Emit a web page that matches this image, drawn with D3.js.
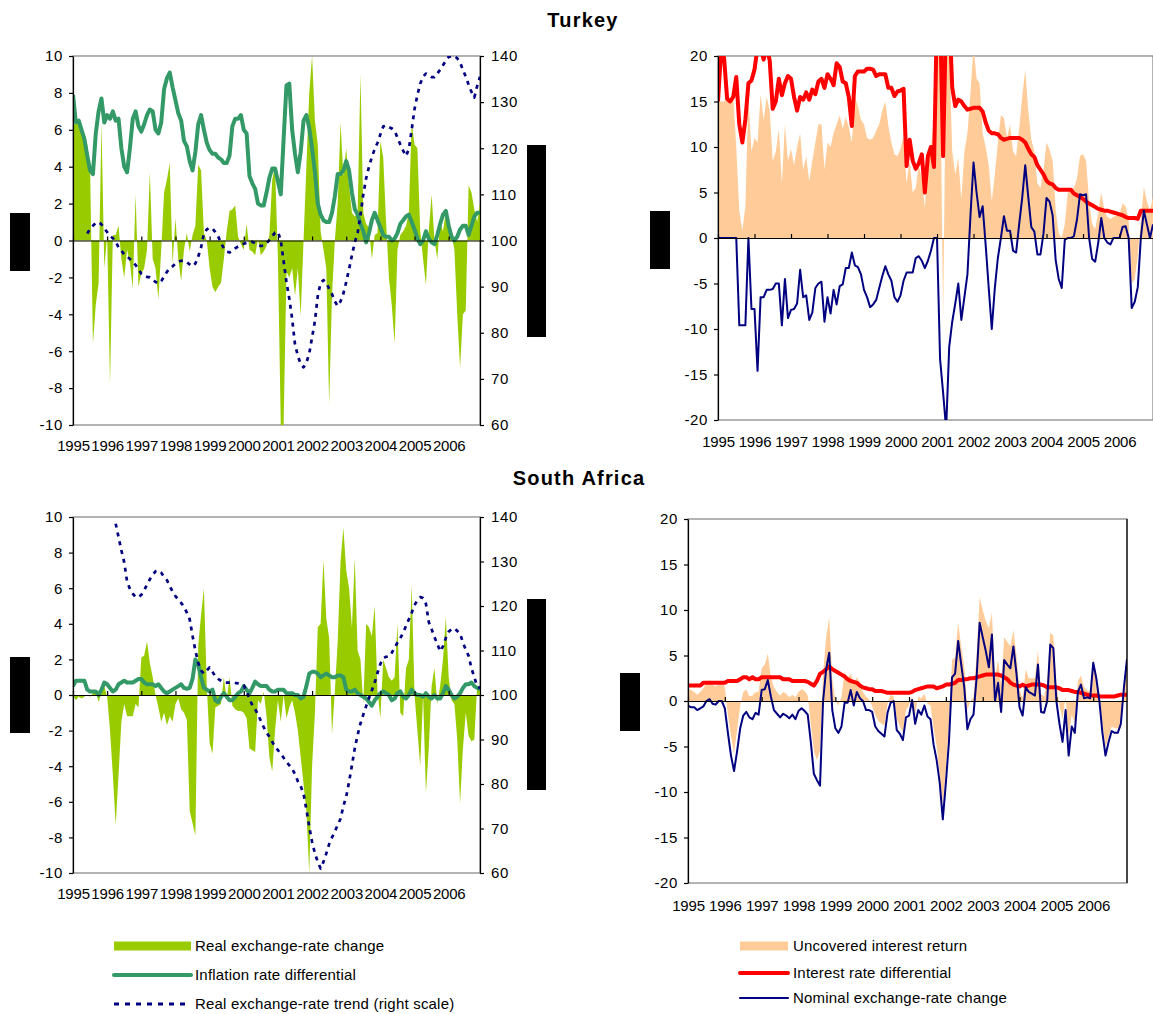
<!DOCTYPE html>
<html>
<head>
<meta charset="utf-8">
<script src="https://cdn.jsdelivr.net/npm/d3@7"></script>
<style>
  body { margin: 0; background: #fff; }
  svg { display: block; font-family: "Liberation Sans", Arial, sans-serif; }
</style>
</head>
<body>
<div id="chart"></div>
<script>
var svgWidth = 1153;
var svgHeight = 1014;

// monthly observations, Jan 1995 - Dec 2006 (one row per year)
var yearTicks = d3.range(0, 144, 12);

// Turkey
var trRer = [
  6.3, 6.3, 6.4, 6.0, 5.8, 5.2, 4.0, -5.6, -3.5, -2.3, 6.4, -1.5,
  0.3, -7.8, 0.3, 0.3, 0.8, -1.0, -2.0, -0.5, -1.2, -2.6, 2.5, -2.5,
  -1.8, -1.5, -0.5, 3.7, -1.0, -1.5, -3.2, -0.5, 2.6, 3.3, 4.2, -1.3,
  1.2, -1.0, -2.2, -0.5, 0.4, -0.6, 0.3, 0.8, 4.1, 3.8, 0.4, 0.0,
  -1.5, -2.5, -2.8, -2.5, -2.3, -1.0, 0.5, 1.6, 1.7, 1.9, 0.2, -0.2,
  -0.5, 0.9, -0.5, -0.6, -0.8, 0.1, -0.8, -0.6, -0.3, 0.3, 3.3, 4.0,
  -1.0, -10, -10, -1.7, -2.0, -1.5, -3.0, -1.5, -4.1, 0.0, 4.0, 8.0,
  10.0, 6.5, 5.2, 0.5, -0.5, -1.5, -8.9, -3.0, 0.0, 2.0, 6.4, 3.5,
  5.0, 3.0, 1.5, 1.3, 1.5, 9.0, 1.5, 0.9, 0.7, -1.0, 0.3, 0.4,
  5.4, 4.5, 1.0, -2.0, -3.5, -5.6, -0.5, 0.3, 0.5, 0.8, 1.5, 6.4,
  5.2, 5.0, 0.5, -1.0, -2.4, 0.5, 2.5, 0.0, -1.0, 1.0, 0.5, 1.6,
  1.0, 0.3, -0.5, -4.0, -6.9, -4.0, -3.8, 3.0, 2.6, 1.7, 1.0, 2.0
];
var trInfl = [
  7.9, 6.4, 6.5, 6.0, 5.5, 4.6, 3.8, 3.6, 5.8, 7.0, 7.7, 6.4,
  6.8, 6.6, 7.0, 6.5, 6.6, 5.0, 4.0, 3.7, 5.0, 6.6, 7.0, 6.2,
  5.9, 6.3, 6.8, 7.1, 7.0, 6.0, 5.8, 6.4, 8.2, 8.8, 9.1, 8.3,
  7.6, 6.9, 6.5, 5.4, 5.1, 4.3, 3.8, 4.8, 6.3, 6.8, 6.0, 5.3,
  4.9, 4.7, 4.7, 4.5, 4.4, 4.2, 4.2, 4.6, 6.2, 6.6, 6.6, 6.8,
  6.0, 5.8, 3.5, 3.1, 2.8, 2.0, 1.9, 1.9, 2.6, 3.4, 3.9, 3.9,
  3.2, 2.5, 5.5, 8.4, 8.5, 6.0, 4.7, 3.7, 4.8, 6.5, 6.8, 6.1,
  5.0, 3.7, 2.0, 1.4, 1.1, 1.0, 1.0, 1.5, 2.4, 3.6, 3.6, 3.8,
  4.3, 3.8, 2.6, 1.7, 1.4, 0.9, 0.5, -0.1, 0.4, 1.1, 1.5, 1.1,
  0.7, 0.3, 0.2, 0.2, 0.0, 0.1, 0.4, 0.9, 1.1, 1.3, 1.4, 1.0,
  0.6, 0.1, -0.2, 0.0, 0.5, 0.1, -0.1, -0.2, 0.3, 0.9, 1.4, 1.6,
  0.8, 0.2, 0.0, 0.2, 0.6, 0.8, 0.8, 0.3, 0.8, 1.3, 1.5, 1.5
];
var trTrend = [
  null, null, null, null, null, 101.5, 102.5, 103.2, 103.8, 104.0, 103.5, 102.6,
  101.8, 101.0, 100.5, 99.8, 98.5, 97.8, 97.0, 96.5, 96.0, 95.3, 94.7, 93.8,
  92.8, 92.3, 92.1, 92.0, 91.5, 91.0, 90.7, 91.2, 92.2, 93.2, 94.0, 94.4,
  95.0, 95.4, 95.6, 95.7, 95.3, 94.8, 94.4, 95.0, 96.5, 98.5, 101.5, 102.4,
  102.8, 102.6, 101.8, 100.9, 99.5, 98.3, 97.6, 97.4, 97.8, 98.3, 98.7, 99.0,
  99.3, 99.5, 99.7, 99.7, 99.4, 99.0, 98.8, 98.9, 99.4, 100.1, 100.9, 101.7,
  101.9, 100.0, 95.5, 91.0, 87.4, 83.0, 77.5, 75.0, 73.2, 72.5, 73.5, 75.5,
  79.0, 82.5, 88.0, 90.8, 91.4, 90.9, 89.5, 88.4, 86.8, 85.8, 86.8, 88.5,
  91.0, 93.8, 96.8, 99.6, 101.6, 105.5, 110.0, 113.5, 116.0, 118.1, 119.8, 121.2,
  123.0, 124.7, 125.0, 124.6, 124.3, 123.8, 122.3, 120.8, 119.5, 118.3, 119.8, 124.0,
  128.5, 131.5, 134.0, 135.5, 136.2, 135.8, 135.4, 135.4, 136.2, 137.0, 138.0, 139.0,
  139.8, 140.0, 140.0, 139.5, 138.6, 137.0, 135.5, 133.8, 132.2, 131.0, 133.5, 135.5
];
var trUir = [
  15.0, 15.0, 15.0, 15.3, 15.4, 15.5, 10.0, 3.0, 0.8, 3.5, 15.5, 9.5,
  11.0, 10.5, 15.8, 13.0, 15.5, 14.0, 8.5, 9.5, 12.0, 6.0, 12.5, 8.5,
  9.8, 8.0, 10.0, 11.5, 7.5, 9.0, 6.2, 8.5, 10.5, 12.5, 12.5, 7.5,
  10.5, 10.0, 11.5, 12.5, 13.5, 12.0, 13.3, 12.2, 10.5, 15.5, 14.5, 13.0,
  12.5, 11.0, 10.8, 11.0, 11.8, 12.5, 14.0, 15.0, 12.3, 10.5, 9.2, 9.0,
  9.8, 11.2, 6.0, 8.5, 5.0, 5.5, 8.0, 6.5, 3.3, 8.2, 10.0, 13.0,
  21, 21, -9.0, 21, 21, 9.5, 7.0, 8.8, 4.2, 9.5, 11.5, 16.0,
  21, 17.5, 17.0, 11.5, 10.0, 8.0, 4.0, 7.0, 10.5, 13.5, 13.2, 11.0,
  12.5, 9.5, 9.0, 12.0, 15.5, 18.5, 14.0, 10.8, 9.5, 6.0, 5.5, 7.5,
  10.5, 9.7, 8.5, 3.2, 0.5, 0.0, 1.5, 5.0, 5.5, 5.5, 6.5, 9.0,
  9.2, 8.5, 4.0, 1.5, 1.0, 2.8, 5.0, 3.0, 2.3, 2.1, 2.3, 2.5,
  2.6, 3.8, 3.5, 2.0, -5.0, -4.5, -2.0, 2.0, 5.6, 4.0, 3.0, 4.5
];
var trIrate = [
  15.0, 20.5, 19.8, 15.3, 15.0, 15.5, 17.7, 12.5, 10.5, 13.0, 17.0, 17.3,
  18.5, 21, 21, 19.6, 21, 19.5, 14.2, 15.0, 17.5, 15.7, 17.0, 17.8,
  17.5, 15.5, 14.0, 15.5, 15.2, 16.0, 15.2, 16.3, 15.8, 17.2, 17.5, 16.5,
  18.0, 17.5, 16.8, 19.2, 18.8, 17.2, 17.0, 15.5, 12.3, 17.8, 18.3, 18.3,
  18.3, 18.6, 18.6, 18.5, 17.8, 18.0, 18.0, 18.0, 16.5, 16.5, 15.6, 16.1,
  16.2, 16.4, 7.9, 10.8, 8.5, 7.6, 8.2, 9.2, 5.0, 9.0, 10.0, 7.8,
  25, 25, 9.0, 25, 25, 16.5, 14.5, 15.2, 15.0, 14.5, 14.1, 14.2,
  14.3, 14.3, 14.3, 13.9, 12.7, 11.8, 11.5, 11.5, 11.4, 11.0, 10.8, 10.9,
  11.0, 11.0, 11.0, 11.0, 10.8, 10.5, 9.8, 9.2, 8.9, 8.0, 7.5, 7.0,
  6.3, 6.0, 5.9, 5.5, 5.3, 5.3, 5.3, 5.3, 5.3, 4.9, 4.7, 4.5,
  4.3, 4.0, 3.8, 3.6, 3.4, 3.2, 3.1, 3.0, 3.0, 2.9, 2.8, 2.7,
  2.6, 2.5, 2.3, 2.2, 2.2, 2.2, 2.1, 3.0, 3.0, 3.0, 3.0, 3.0
];
var trNom = [
  0, 0, 0, 0, 0, 0, 0, -9.6, -9.6, -9.6, 0.0, -7.8,
  -7.8, -14.6, -6.5, -6.5, -5.7, -5.7, -5.6, -5.0, -5.0, -9.6, -4.5, -8.8,
  -7.9, -7.8, -7.2, -3.5, -6.5, -6.3, -9.0, -8.2, -5.5, -5.0, -4.8, -9.2,
  -6.5, -8.3, -5.7, -7.3, -5.3, -5.1, -3.3, -3.3, -1.6, -3.0, -3.2, -4.0,
  -5.7, -6.5, -7.6, -7.3, -6.8, -5.5, -4.2, -3.1, -4.0, -4.7, -6.5, -7.0,
  -6.3, -4.7, -3.8, -3.8, -3.8, -2.2, -2.0, -2.5, -3.3, -2.5, -1.4, 0.0,
  0.0, -13.3, -17, -21, -12, -9.2, -7.2, -5.0, -9.0, -6.5, -4.0, 2.5,
  8.3, 5.0, 2.3, 3.5, -0.8, -5.5, -10.0, -5.5, -2.2, 0.0, 2.4, 0.8,
  0.8, -1.4, -1.6, 1.5, 4.4, 8.0, 4.5, 1.2, 0.7, -1.8, -1.8, 0.5,
  4.4, 4.0, 2.5, -2.4, -4.5, -5.5, -0.2, 0.0, 0.0, 0.2, 2.0, 4.8,
  4.7, 4.8, 0.0, -2.3, -2.6, -0.5, 2.2, 0.0, -0.5, -0.7, 0.0, 0.0,
  0.0, 1.2, 1.3, 0.0, -7.7, -7.0, -5.4, 0.0, 3.0, 1.5, 0.0, 1.5
];

// South Africa
var saRer = [
  0.0, -0.3, -0.1, -0.2, -0.1, 0.0, -0.1, 0.1, 0.2, -0.4, 0.1, 0.5,
  -0.1, -2.0, -4.5, -7.3, -4.5, -1.5, -0.5, -1.2, -1.2, -1.2, -0.5, -0.7,
  2.1, 2.2, 3.0, 1.8, 1.0, 0.0, -0.7, -1.5, -1.0, -1.7, -1.2, -1.5,
  -0.5, -0.2, -0.8, -1.0, -1.4, -6.5, -7.2, -7.9, 2.8, 4.5, 6.0, 0.5,
  -2.7, -3.3, -0.7, -0.6, -0.5, 1.0, -0.3, 1.0, -0.6, -0.8, -0.9, -0.9,
  -1.0, -1.3, -3.0, -3.1, -3.2, -0.3, -0.5, 0.2, -1.2, -3.5, -4.3, -2.0,
  -0.3, -1.5, 0.0, -1.3, -0.7, -0.3, -1.0, -2.0, -3.5, -5.0, -6.5, -10.0,
  -4.0, -1.0, 3.8, 4.0, 7.6, 4.3, 3.2, -2.2, 0.2, 3.0, 7.5, 9.4,
  7.0, 6.0, 3.8, 7.7, 2.5, 2.0, -0.5, 4.0, 3.8, 3.3, 5.0, 0.2,
  -1.3, 2.0, 1.5, 1.0, 0.8, 1.0, 4.0, -1.0, -1.2, 1.5, 2.0, 6.2,
  0.0, -2.0, -4.0, 0.0, -5.5, -3.0, 0.5, 1.5, -0.5, 0.5, 2.0, 4.4,
  1.0, -0.3, -0.5, -2.5, -6.1, -3.0, -1.0, -2.3, -2.6, -2.5, 0.5, 0.5
];
var saInfl = [
  0.5, 0.8, 0.8, 0.8, 0.8, 0.3, 0.2, 0.2, 0.2, 0.0, 0.3, 0.7,
  0.6, 0.4, 0.2, 0.3, 0.6, 0.7, 0.8, 0.7, 0.7, 0.7, 0.8, 0.9,
  0.9, 0.7, 0.6, 0.6, 0.6, 0.5, 0.6, 0.4, 0.2, 0.1, 0.2, 0.3,
  0.4, 0.5, 0.6, 0.4, 0.35, 0.4, 0.9, 2.0, 1.7, 1.0, 0.4, 0.3,
  0.2, 0.3, -0.3, -0.4, -0.1, 0.1, -0.1, -0.3, -0.3, -0.1, 0.1, 0.2,
  0.5, 0.3, 0.1, 0.4, 0.75, 0.6, 0.5, 0.5, 0.5, 0.3, 0.2, 0.2,
  0.3, 0.3, 0.3, 0.1, 0.1, 0.1, 0.0, 0.0, -0.2, -0.1, 0.5, 1.2,
  1.3, 1.3, 1.2, 1.0, 1.1, 1.2, 1.1, 1.0, 1.0, 1.1, 1.1, 1.0,
  0.3, 0.2, 0.2, 0.3, 0.1, 0.0, -0.1, -0.2, -0.4, -0.6, -0.3, -0.1,
  0.1, 0.2, 0.1, 0.0, -0.3, -0.2, 0.1, 0.2, -0.1, -0.2, 0.0, 0.3,
  0.1, 0.0, 0.0, -0.1, 0.1, -0.1, -0.2, 0.0, -0.2, -0.2, 0.1, 0.5,
  0.3, 0.0, -0.2, -0.1, 0.1, 0.4, 0.6, 0.6, 0.7, 0.5, 0.4, 0.3
];
var saTrend = [
  null, null, null, null, null, null, null, null, null, null, null, null,
  null, null, null, 138.5, 135.5, 132.5, 129.8, 125.5, 123.8, 122.8, 122.0, 122.0,
  122.5, 123.5, 124.8, 126.0, 127.0, 127.8, 128.0, 127.5, 126.5, 125.8, 124.5, 123.2,
  122.2, 121.4, 120.7, 119.8, 118.5, 117.0, 113.3, 110.0, 107.2, 105.5, 104.8, 105.5,
  106.2, 105.2, 104.2, 103.6, 103.2, 102.8, 102.8, 102.8, 102.8, 102.7, 102.6, 102.4,
  102.2, 100.8, 99.2, 97.7, 96.8, 95.6, 94.2, 92.8, 91.6, 90.6, 89.5, 88.3,
  87.6, 86.8, 85.9, 85.0, 84.2, 83.4, 82.2, 80.6, 79.5, 77.8, 74.3, 70.4,
  67.0, 64.4, 62.5, 61.0, 62.5, 64.4, 66.5, 68.0, 69.3, 70.8, 72.2, 75.0,
  77.2, 80.5, 84.2, 88.0, 91.0, 93.6, 95.6, 97.5, 99.3, 101.0, 102.8, 105.0,
  107.0, 108.2, 108.6, 108.6, 109.5, 110.6, 111.8, 112.8, 114.0, 115.5, 117.0, 118.5,
  120.2, 121.3, 122.0, 121.8, 120.5, 116.4, 114.8, 113.0, 111.5, 109.8, 111.0, 112.8,
  114.2, 114.8, 115.0, 114.4, 113.8, 111.8, 110.2, 108.8, 106.0, 104.0, 102.0, 101.5
];
var saUir = [
  1.3, 1.2, 1.0, 0.7, 1.0, 1.4, 2.0, 2.3, 1.8, 1.6, 2.0, 2.2,
  1.5, -1.5, -3.8, -5.8, -3.2, -0.5, 1.0, 1.3, 0.5, 0.6, 1.0, 1.0,
  3.6, 4.0, 5.2, 2.6, 1.5, 1.0, 0.6, 1.0, 0.8, 0.4, 0.7, 0.4,
  1.0, 1.3, 1.1, 0.6, -2.5, -5.5, -6.5, -5.5, 3.0, 7.0, 9.2, 2.5,
  0.0, -0.5, 0.5, 3.2, 2.5, 3.0, 2.0, 2.6, 2.0, 1.0, 0.5, 0.2,
  -0.6, -1.5, -2.2, -2.5, -2.7, -0.3, 0.7, 0.5, -2.0, -2.8, -3.4, -1.0,
  -0.5, 0.5, -1.5, 0.5, 0.3, 0.8, -0.3, -0.5, -3.0, -5.0, -8.0, -11.5,
  -7.5, -2.5, 4.5, 4.8, 8.6, 6.0, 3.8, -1.0, 0.0, 0.5, 5.0, 11.4,
  10.0, 8.8, 8.0, 9.7, 2.5, 4.5, 1.8, 7.0, 6.5, 6.0, 7.8, 5.0,
  1.2, 0.3, 3.5, 2.5, 2.5, 2.5, 5.6, 0.8, 0.5, 2.0, 7.5, 7.2,
  2.0, -0.5, -2.0, 0.5, -4.0, -1.5, -2.5, 2.2, 2.8, 1.5, 1.2, 1.0,
  4.5, 3.0, 0.8, -2.5, -5.0, -4.0, -2.8, -3.0, -3.0, -3.0, 1.5, 5.0
];
var saIrate = [
  1.7, 1.7, 1.7, 1.7, 1.7, 2.0, 2.0, 2.0, 2.0, 2.0, 2.0, 2.0,
  2.0, 2.2, 2.2, 2.2, 2.2, 2.4, 2.6, 2.6, 2.4, 2.6, 2.4, 2.4,
  2.6, 2.6, 2.6, 2.6, 2.6, 2.6, 2.6, 2.4, 2.4, 2.4, 2.2, 2.2,
  2.2, 2.2, 2.2, 2.1, 1.9, 1.7, 2.2, 3.0, 3.2, 3.5, 3.8, 3.5,
  3.3, 3.1, 2.9, 2.7, 2.4, 2.2, 2.1, 2.0, 1.7, 1.5, 1.4, 1.3,
  1.3, 1.1, 1.1, 1.1, 1.0, 0.9, 0.9, 0.9, 0.9, 0.9, 0.9, 0.9,
  0.9, 1.0, 1.2, 1.3, 1.4, 1.5, 1.6, 1.6, 1.6, 1.4, 1.5, 1.6,
  1.8, 1.8, 1.9, 2.0, 2.3, 2.3, 2.4, 2.4, 2.5, 2.5, 2.6, 2.7,
  2.8, 2.9, 2.9, 2.9, 2.9, 2.9, 2.8, 2.6, 2.4, 2.0, 1.8, 1.7,
  1.6, 1.8, 1.6, 1.7, 1.8, 1.8, 1.8, 1.8, 1.7, 1.5, 1.5, 1.5,
  1.5, 1.4, 1.2, 1.2, 1.2, 1.1, 1.0, 1.0, 0.9, 0.8, 0.7, 0.6,
  0.6, 0.6, 0.5, 0.5, 0.5, 0.5, 0.5, 0.5, 0.6, 0.7, 0.7, 0.7
];
var saNom = [
  -0.5, -0.7, -0.7, -1.0, -0.8, -0.6, 0.0, 0.2, -0.3, -0.4, 0.0, 0.0,
  -0.8, -3.5, -6.0, -7.7, -5.5, -3.0, -1.6, -1.2, -1.8, -2.0, -1.3, -1.5,
  1.2, 1.3, 2.3, 0.5, -1.0, -1.4, -1.8, -1.4, -1.6, -1.9, -1.5, -2.0,
  -1.1, -0.8, -1.1, -1.5, -4.5, -8.0, -8.7, -9.3, 0.0, 3.5, 5.3, -1.0,
  -3.0, -3.5, -2.8, -0.2, -0.2, 1.2, -0.5, 1.0, 0.3, 0.0, -1.0, -1.0,
  -1.2, -2.8, -3.3, -3.6, -3.9, -1.3, -0.2, 0.0, -3.2, -3.6, -4.3, -1.8,
  -1.6, 0.1, -2.5, -1.0, -1.5, -0.5, -1.7, -2.0, -4.8, -6.5, -9.0, -13.0,
  -9.0, -4.5, 2.6, 3.0, 6.6, 4.0, 1.5, -3.1, -2.0, -1.5, 2.5, 8.6,
  7.0, 5.5, 3.7, 7.3, 0.0, 2.0, -1.2, 4.5, 4.0, 3.6, 6.0, 3.0,
  -0.7, -1.6, 1.5, 1.0, 0.8, 0.6, 4.0, -1.2, -1.3, 0.0, 6.2, 5.8,
  0.0, -2.5, -4.5, -1.0, -6.0, -2.8, -3.5, 1.0, 1.8, 0.3, 0.4, 0.3,
  4.2, 2.5, 0.0, -3.5, -6.0, -4.5, -3.3, -3.5, -3.5, -2.5, 1.5, 4.6
];

var leftTicks = [-10, -8, -6, -4, -2, 0, 2, 4, 6, 8, 10];
var rightTicks = [60, 70, 80, 90, 100, 110, 120, 130, 140];
var uirTicks = [-20, -15, -10, -5, 0, 5, 10, 15, 20];

var colors = {
  rer: "#99cc00",
  infl: "#339966",
  trend: "#000080",
  uir: "#ffcc99",
  irate: "#ff0000",
  nom: "#000080"
};

var svg = d3.select("#chart")
  .append("svg")
  .attr("width", svgWidth)
  .attr("height", svgHeight);

function plainNumber(d) { return String(d); }

function styleAxisText(sel, size, spacing) {
  sel.attr("font-size", size).attr("fill", "#000").attr("font-family", null)
    .attr("letter-spacing", spacing || null);
}

function drawPanel(p) {
  var x = d3.scaleLinear().domain([0, 143]).range([p.left, p.right]);
  var y = d3.scaleLinear().domain(p.yDomain).range([p.bottom, p.top]);
  var y2 = p.y2Domain ? d3.scaleLinear().domain(p.y2Domain).range([p.bottom, p.top]) : null;

  var g = svg.append("g");

  svg.append("clipPath").attr("id", "clip" + p.id)
    .append("rect")
    .attr("x", p.left).attr("y", p.top)
    .attr("width", p.right - p.left).attr("height", p.bottom - p.top);

  // plot frame
  g.append("rect")
    .attr("x", p.left).attr("y", p.top)
    .attr("width", p.right - p.left).attr("height", p.bottom - p.top)
    .attr("fill", "none").attr("stroke", "#808080").attr("stroke-width", 1.2);

  var plot = g.append("g").attr("clip-path", "url(#clip" + p.id + ")");

  plot.append("path")
    .datum(p.area.values)
    .attr("fill", p.area.color)
    .attr("d", d3.area()
      .x(function (d, i) { return x(i); })
      .y0(y(0))
      .y1(function (d) { return y(d); }));

  // zero line with year ticks
  var zeroAxis = g.append("g")
    .attr("transform", "translate(0," + y(0) + ")")
    .call(d3.axisBottom(x).tickValues(yearTicks).tickSizeInner(-4).tickSizeOuter(0).tickFormat(""));
  zeroAxis.selectAll("path, line").attr("stroke", "#000").attr("stroke-width", 1.2);

  p.lines.forEach(function (ln) {
    var sc = ln.right ? y2 : y;
    plot.append("path")
      .datum(ln.values)
      .attr("fill", "none")
      .attr("stroke", ln.color)
      .attr("stroke-width", ln.width)
      .attr("stroke-dasharray", ln.dash || null)
      .attr("stroke-linejoin", "round")
      .attr("d", d3.line()
        .defined(function (d) { return d != null; })
        .x(function (d, i) { return x(i); })
        .y(function (d) { return sc(d); }));
  });

  // left axis
  var la = g.append("g")
    .attr("transform", "translate(" + p.left + ",0)")
    .call(d3.axisLeft(y).tickValues(p.yTicks).tickFormat(plainNumber)
      .tickSizeInner(4).tickSizeOuter(0).tickPadding(6));
  la.selectAll("path, line").attr("stroke", "#000").attr("stroke-width", 1.2);
  styleAxisText(la.selectAll("text"), 15, 0.6);

  if (y2) {
    var ra = g.append("g")
      .attr("transform", "translate(" + p.right + ",0)")
      .call(d3.axisRight(y2).tickValues(p.y2Ticks).tickFormat(plainNumber)
        .tickSizeInner(4).tickSizeOuter(0).tickPadding(7));
    ra.selectAll("path, line").attr("stroke", "#000").attr("stroke-width", 1.2);
    styleAxisText(ra.selectAll("text"), 15, 0.6);
  }
  if (p.rightLine) {
    g.append("line")
      .attr("x1", p.right).attr("x2", p.right)
      .attr("y1", p.top).attr("y2", p.bottom)
      .attr("stroke", "#000").attr("stroke-width", 1.2);
  }

  // year labels below the plot
  var xa = g.append("g")
    .attr("transform", "translate(0," + p.labelY + ")")
    .call(d3.axisBottom(x).tickValues(yearTicks).tickSize(0)
      .tickFormat(function (i) { return 1995 + i / 12; }));
  xa.select(".domain").remove();
  xa.selectAll("text").attr("y", 0).attr("dy", 0);
  styleAxisText(xa.selectAll("text"), 15, -0.2);

  // redacted axis title blocks
  p.blocks.forEach(function (b) {
    g.append("rect").attr("x", b[0]).attr("y", b[1])
      .attr("width", b[2]).attr("height", b[3]).attr("fill", "#000");
  });
}

drawPanel({
  id: "trL", left: 73, right: 480, top: 56, bottom: 425, labelY: 451,
  yDomain: [-10, 10], yTicks: leftTicks, y2Domain: [60, 140], y2Ticks: rightTicks,
  area: { values: trRer, color: colors.rer },
  lines: [
    { values: trInfl, color: colors.infl, width: 4 },
    { values: trTrend, color: colors.trend, width: 2.7, dash: "4,5", right: true }
  ],
  blocks: [[10, 213, 20, 58], [527, 145, 19, 192]]
});

drawPanel({
  id: "trR", left: 718, right: 1153, top: 56, bottom: 420, labelY: 447,
  yDomain: [-20, 20], yTicks: uirTicks,
  area: { values: trUir, color: colors.uir },
  lines: [
    { values: trIrate, color: colors.irate, width: 4 },
    { values: trNom, color: colors.nom, width: 2 }
  ],
  blocks: [[650, 211, 20, 58]]
});

drawPanel({
  id: "saL", left: 73, right: 480, top: 517, bottom: 873, labelY: 899,
  yDomain: [-10, 10], yTicks: leftTicks, y2Domain: [60, 140], y2Ticks: rightTicks,
  area: { values: saRer, color: colors.rer },
  lines: [
    { values: saInfl, color: colors.infl, width: 4 },
    { values: saTrend, color: colors.trend, width: 2.7, dash: "4,5", right: true }
  ],
  blocks: [[10, 657, 20, 76], [527, 599, 19, 191]]
});

drawPanel({
  id: "saR", left: 688, right: 1127, top: 519, bottom: 883, labelY: 911,
  yDomain: [-20, 20], yTicks: uirTicks, rightLine: true,
  area: { values: saUir, color: colors.uir },
  lines: [
    { values: saIrate, color: colors.irate, width: 4 },
    { values: saNom, color: colors.nom, width: 2 }
  ],
  blocks: [[620, 673, 20, 58]]
});

// titles
svg.append("text").attr("x", 583).attr("y", 27).attr("text-anchor", "middle")
  .attr("font-size", 20).attr("font-weight", "bold").attr("letter-spacing", 1.2).text("Turkey");
svg.append("text").attr("x", 579).attr("y", 485).attr("text-anchor", "middle")
  .attr("font-size", 20).attr("font-weight", "bold").attr("letter-spacing", 1.2).text("South Africa");

// legends
var legendLeft = [
  { label: "Real exchange-rate change", type: "rect", color: colors.rer, y: 946 },
  { label: "Inflation rate differential", type: "line", color: colors.infl, width: 4, y: 975 },
  { label: "Real exchange-rate trend (right scale)", type: "line", color: colors.trend, width: 3, dash: "5,6", y: 1004 }
];
var legendRight = [
  { label: "Uncovered interest return", type: "rect", color: colors.uir, y: 946 },
  { label: "Interest rate differential", type: "line", color: colors.irate, width: 4, y: 973 },
  { label: "Nominal exchange-rate change", type: "line", color: colors.nom, width: 2, y: 998 }
];

function drawLegend(items, x0, x1, tx) {
  var lg = svg.append("g");
  items.forEach(function (it) {
    if (it.type === "rect") {
      lg.append("rect").attr("x", x0).attr("y", it.y - 4.5)
        .attr("width", x1 - x0).attr("height", 9).attr("fill", it.color);
    } else {
      lg.append("line").attr("x1", x0).attr("x2", x1).attr("y1", it.y).attr("y2", it.y)
        .attr("stroke", it.color).attr("stroke-width", it.width)
        .attr("stroke-dasharray", it.dash || null)
        .attr("stroke-linecap", it.dash ? "butt" : "round");
    }
    lg.append("text").attr("x", tx).attr("y", it.y + 5)
      .attr("font-size", 15).attr("letter-spacing", 0.2).attr("fill", "#000").text(it.label);
  });
}
drawLegend(legendLeft, 114, 191, 195);
drawLegend(legendRight, 740, 788, 793);
</script>
</body>
</html>
